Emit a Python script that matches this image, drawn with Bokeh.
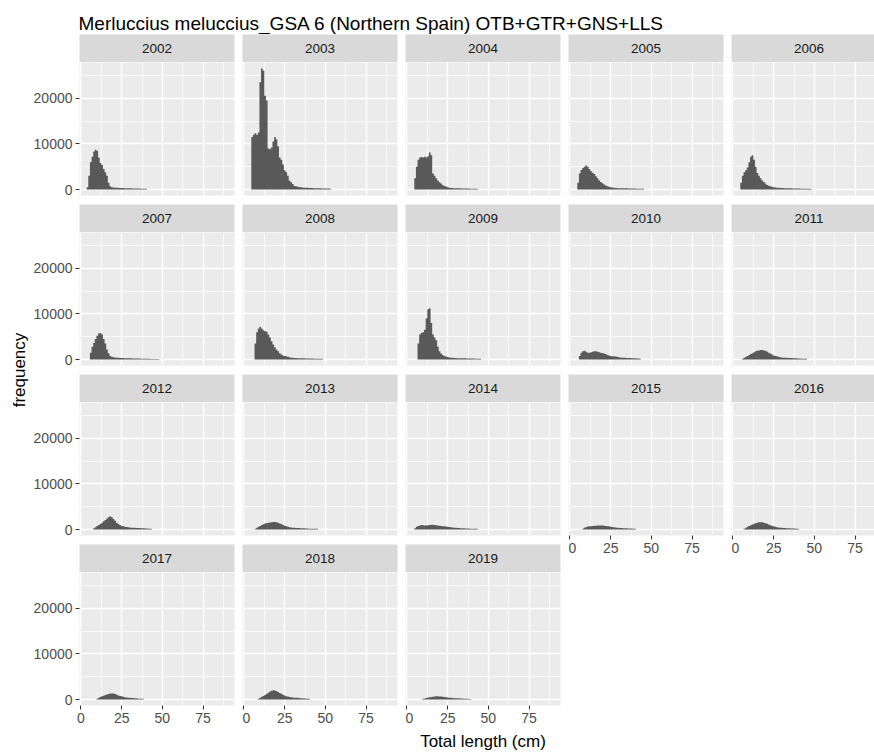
import math
from bokeh.plotting import figure
from bokeh.layouts import row, column
from bokeh.models import Range1d, FixedTicker, NumeralTickFormatter, ColumnDataSource
from bokeh.core.properties import value
from bokeh.embed import file_html
from bokeh.resources import INLINE

# ---------------- data ----------------
title_text = "Merluccius meluccius_GSA 6 (Northern Spain) OTB+GTR+GNS+LLS"
x_title = "Total length (cm)"
y_title = "frequency"

years = [2002, 2003, 2004, 2005, 2006, 2007, 2008, 2009, 2010,
         2011, 2012, 2013, 2014, 2015, 2016, 2017, 2018, 2019]

# length classes (cm), 1-cm bins starting at 3 cm
length_cm = [3, 4, 5, 6, 7, 8, 9, 10, 11, 12, 13, 14, 15, 16, 17, 18, 19, 20,
             21, 22, 23, 24, 25, 26, 27, 28, 29, 30, 31, 32, 33, 34, 35, 36, 37,
             38, 39, 40, 41, 42, 43, 44, 45, 46, 47, 48, 49, 50, 51, 52, 53, 54, 55]

# numbers at length, one value per class starting at 3 cm
freq_2002 = [0, 500, 3000, 6000, 7200, 8300, 8700, 8500, 7000, 5800,
             5400, 4500, 3800, 3000, 1500, 700, 500, 450, 420, 400,
             380, 360, 340, 320, 300, 290, 280, 270, 260, 250,
             240, 230, 220, 210, 200, 190, 180, 160, 0]
freq_2003 = [0, 0, 11500, 12000, 12300, 12000, 12500, 23500, 26500, 26000,
             20500, 19500, 9000, 8800, 9200, 10500, 11500, 11000, 9500, 7000,
             6500, 5500, 4200, 3800, 3000, 1900, 1600, 1200, 800, 700,
             600, 550, 500, 450, 420, 400, 380, 360, 340, 320,
             300, 290, 280, 270, 260, 250, 240, 230, 220, 210, 200, 0]
freq_2004 = [0, 0, 2500, 5000, 6500, 7000, 7100, 7000, 7200, 7000,
             7300, 8100, 7500, 3500, 3000, 2500, 2000, 1600, 1300, 1000,
             800, 650, 500, 400, 350, 320, 300, 290, 280, 270,
             260, 250, 240, 230, 220, 210, 200, 190, 180, 170, 160, 0]
freq_2005 = [0, 0, 1500, 3500, 4300, 4700, 5000, 5250, 5000, 4500,
             4000, 3700, 3400, 2900, 2500, 2000, 1650, 1400, 1100, 900,
             720, 600, 500, 450, 400, 350, 330, 310, 300, 290,
             280, 270, 260, 250, 240, 230, 220, 210, 200, 190,
             180, 170, 160, 0]
freq_2006 = [0, 0, 1500, 3000, 3800, 4200, 4800, 6000, 7200, 7500,
             6500, 5000, 3600, 3000, 2500, 2000, 1650, 1300, 1000, 850,
             720, 600, 500, 450, 400, 380, 360, 340, 320, 300,
             290, 280, 270, 260, 250, 240, 230, 220, 210, 200,
             190, 180, 170, 160, 150, 140, 0]
freq_2007 = [0, 0, 0, 1500, 2800, 3600, 4500, 5200, 5700, 5800,
             5500, 4500, 3500, 2200, 1400, 800, 600, 500, 450, 400,
             380, 360, 340, 320, 300, 290, 280, 270, 260, 250,
             240, 230, 220, 210, 200, 190, 180, 170, 160, 150,
             140, 130, 120, 110, 100, 90, 0]
freq_2008 = [0, 0, 0, 0, 3500, 6000, 6800, 7200, 6800, 6400,
             6200, 6100, 5500, 4800, 4000, 3300, 2700, 2200, 1800, 1400,
             1100, 900, 800, 720, 600, 500, 420, 380, 350, 320,
             300, 290, 280, 270, 260, 250, 240, 230, 220, 210,
             200, 190, 180, 170, 160, 150, 0]
freq_2009 = [0, 0, 0, 0, 3500, 5500, 5800, 6000, 6500, 9000,
             11000, 11200, 8000, 5500, 4800, 4200, 2800, 1800, 1300, 1000,
             800, 650, 550, 450, 400, 370, 350, 330, 310, 300,
             290, 280, 270, 260, 250, 240, 230, 220, 210, 200,
             190, 180, 170, 0]
freq_2010 = [0, 0, 0, 800, 1500, 1800, 1900, 1700, 1500, 1500,
             1600, 1700, 1800, 1800, 1700, 1600, 1500, 1400, 1300, 1200,
             1000, 900, 800, 750, 700, 650, 600, 500, 450, 420,
             400, 380, 360, 340, 320, 300, 280, 260, 240, 220, 200, 0]
freq_2011 = [0, 0, 0, 200, 400, 600, 800, 1000, 1200, 1400,
             1600, 1800, 1900, 2000, 2100, 2100, 2000, 1900, 1700, 1500,
             1300, 1100, 900, 800, 700, 600, 500, 450, 420, 400,
             380, 360, 340, 320, 300, 280, 260, 240, 220, 200,
             180, 160, 150, 0]
freq_2012 = [0, 0, 0, 0, 0, 300, 500, 800, 1000, 1200,
             1500, 1800, 2100, 2400, 2700, 2900, 2700, 2300, 1900, 1500,
             1200, 1000, 800, 700, 600, 550, 500, 450, 420, 400,
             380, 360, 340, 320, 300, 280, 260, 240, 220, 200, 180, 0]
freq_2013 = [0, 0, 0, 0, 200, 400, 600, 800, 1000, 1150,
             1300, 1400, 1500, 1550, 1600, 1650, 1650, 1600, 1500, 1350,
             1200, 1000, 850, 700, 600, 500, 450, 400, 380, 360,
             340, 320, 300, 280, 260, 240, 220, 200, 190, 180,
             170, 160, 150, 0]
freq_2014 = [0, 0, 300, 600, 800, 900, 1000, 950, 900, 900,
             950, 1000, 1050, 1050, 1000, 950, 900, 850, 800, 750,
             700, 650, 600, 550, 500, 450, 400, 370, 350, 330,
             310, 290, 270, 250, 230, 210, 200, 190, 180, 170, 160, 0]
freq_2015 = [0, 0, 0, 0, 0, 200, 400, 550, 650, 700,
             750, 800, 850, 850, 900, 900, 900, 880, 850, 800,
             750, 700, 600, 550, 500, 450, 400, 370, 350, 330,
             310, 290, 270, 250, 230, 210, 190, 170, 0]
freq_2016 = [0, 0, 0, 0, 200, 400, 600, 800, 950, 1100,
             1250, 1400, 1500, 1580, 1620, 1600, 1500, 1400, 1250, 1100,
             950, 800, 700, 600, 500, 450, 400, 370, 350, 330,
             310, 290, 270, 250, 230, 210, 190, 170, 0]
freq_2017 = [0, 0, 0, 0, 0, 0, 0, 200, 400, 550,
             700, 850, 1000, 1100, 1200, 1300, 1350, 1300, 1200, 1050,
             900, 800, 700, 600, 500, 450, 400, 370, 350, 320,
             290, 260, 230, 200, 180, 160, 0]
freq_2018 = [0, 0, 0, 0, 0, 0, 200, 400, 600, 800,
             1000, 1250, 1500, 1750, 1950, 2050, 2000, 1850, 1650, 1450,
             1250, 1050, 900, 750, 650, 550, 500, 450, 420, 400,
             370, 340, 310, 280, 250, 220, 200, 180, 0]
freq_2019 = [0, 0, 0, 0, 0, 0, 0, 150, 250, 350,
             450, 520, 580, 630, 670, 700, 700, 690, 660, 620,
             570, 520, 470, 420, 380, 340, 300, 280, 270, 260,
             240, 220, 200, 180, 160, 140, 120, 0]

freq_by_year = {
    2002: freq_2002, 2003: freq_2003, 2004: freq_2004, 2005: freq_2005,
    2006: freq_2006, 2007: freq_2007, 2008: freq_2008, 2009: freq_2009,
    2010: freq_2010, 2011: freq_2011, 2012: freq_2012, 2013: freq_2013,
    2014: freq_2014, 2015: freq_2015, 2016: freq_2016, 2017: freq_2017,
    2018: freq_2018, 2019: freq_2019,
}

x_major_ticks = [0, 25, 50, 75]
x_minor_ticks = [12.5, 37.5, 62.5, 87.5]
y_major_ticks = [0, 10000, 20000]
y_minor_ticks = [5000, 15000, 25000]

# ---------------- layout / style ----------------
FONT = "Liberation Sans"
NCOL = 5
X_START, X_END = -0.9, 94.3
Y_START, Y_END = -1300, 27800
PANEL_W = 155
PANEL_H = 133
STRIP_H = 28
HGAP = 8
VGAP = 9
LEFT_LABEL_W = 30
LEFT_AXIS_W = 49
HEADER_H = 34
TOTAL_W = 874
BOTTOM_H = 48

PANEL_BG = "#EBEBEB"
STRIP_BG = "#D9D9D9"
BAR_COLOR = "#595959"

# last column is cut by the window edge, like the reference
last_col_w = TOTAL_W - LEFT_LABEL_W - LEFT_AXIS_W - 4 * (PANEL_W + HGAP)
x_ranges = []
for c in range(NCOL):
    if c < NCOL - 1:
        x_ranges.append(Range1d(X_START, X_END))
    else:
        x_ranges.append(Range1d(X_START, X_START + (X_END - X_START) * last_col_w / PANEL_W))
col_widths = [PANEL_W] * (NCOL - 1) + [last_col_w]
x_center = (X_START + X_END) / 2


def style_axis(ax):
    ax.axis_line_color = None
    ax.major_tick_line_color = "#333333"
    ax.major_tick_line_width = 1
    ax.major_tick_out = 4
    ax.major_tick_in = 0
    ax.minor_tick_line_color = None
    ax.major_label_text_color = "#4D4D4D"
    ax.major_label_text_font = FONT
    ax.major_label_text_font_size = "14px"
    ax.major_label_standoff = 3
    ax.axis_label_text_font = FONT
    ax.axis_label_text_font_size = "17px"
    ax.axis_label_text_font_style = "normal"
    ax.axis_label_text_color = "#000000"


def make_strip(c, year):
    s = figure(frame_width=col_widths[c], frame_height=STRIP_H,
               x_range=x_ranges[c], y_range=Range1d(0, 1),
               x_axis_location=None, y_axis_location=None,
               toolbar_location=None, output_backend="svg",
               min_border_left=LEFT_AXIS_W if c == 0 else 0,
               min_border_right=HGAP if c < NCOL - 1 else 0,
               min_border_top=0, min_border_bottom=0)
    s.background_fill_color = STRIP_BG
    s.border_fill_color = "white"
    s.outline_line_color = None
    s.grid.visible = False
    s.text(x=[x_center], y=[0.5], text=[str(year)], text_align="center",
           text_baseline="middle", text_font=value(FONT),
           text_font_size="13.5px", text_color="#1A1A1A")
    return s


def make_panel(c, year, show_x, bottom_border, xlabel=None):
    p = figure(frame_width=col_widths[c], frame_height=PANEL_H,
               x_range=x_ranges[c], y_range=Range1d(Y_START, Y_END),
               x_axis_location="below" if show_x else None,
               y_axis_location="left" if c == 0 else None,
               toolbar_location=None, output_backend="svg",
               min_border_left=LEFT_AXIS_W if c == 0 else 0,
               min_border_right=HGAP if c < NCOL - 1 else 0,
               min_border_top=0, min_border_bottom=bottom_border)
    p.background_fill_color = PANEL_BG
    p.border_fill_color = "white"
    p.outline_line_color = None
    p.xgrid.ticker = FixedTicker(ticks=x_major_ticks, minor_ticks=x_minor_ticks)
    p.ygrid.ticker = FixedTicker(ticks=y_major_ticks, minor_ticks=y_minor_ticks)
    for g in (p.xgrid[0], p.ygrid[0]):
        g.grid_line_color = "white"
        g.grid_line_width = 1.4
        g.minor_grid_line_color = "white"
        g.minor_grid_line_width = 0.7
    if show_x:
        p.xaxis.ticker = FixedTicker(ticks=x_major_ticks, minor_ticks=x_minor_ticks)
        style_axis(p.xaxis[0])
        if xlabel:
            p.xaxis.axis_label = xlabel
            p.xaxis.axis_label_standoff = 6
    if c == 0:
        p.yaxis.ticker = FixedTicker(ticks=y_major_ticks, minor_ticks=y_minor_ticks)
        p.yaxis.formatter = NumeralTickFormatter(format="0")
        style_axis(p.yaxis[0])
    vals = freq_by_year[year]
    src = ColumnDataSource(dict(x=length_cm[:len(vals)], top=vals))
    # 1-cm histogram bars drawn as one stepped area (no seams between bars)
    p.varea_step(x="x", y1=0, y2="top", step_mode="center", source=src,
                 fill_color=BAR_COLOR)
    return p


columns = []
for c in range(NCOL):
    last_row = (len(years) - 1 - c) // NCOL
    items = []
    for r in range(last_row + 1):
        year = years[r * NCOL + c]
        bottom = (r == last_row)
        items.append(make_strip(c, year))
        items.append(make_panel(c, year, show_x=bottom,
                                bottom_border=BOTTOM_H if (bottom and r == 3) else VGAP,
                                xlabel=x_title if (bottom and c == 2) else None))
    columns.append(column(*items, spacing=0))

body_h = 3 * (STRIP_H + PANEL_H + VGAP) + STRIP_H + PANEL_H + BOTTOM_H

# header with the plot title
header = figure(frame_width=TOTAL_W, frame_height=HEADER_H,
                x_range=Range1d(0, TOTAL_W), y_range=Range1d(0, HEADER_H),
                x_axis_location=None, y_axis_location=None,
                toolbar_location=None, output_backend="svg",
                min_border=0)
header.outline_line_color = None
header.grid.visible = False
header.text(x=[LEFT_LABEL_W + LEFT_AXIS_W - 1], y=[11], text=[title_text],
            text_align="left", text_baseline="alphabetic",
            text_font=value(FONT), text_font_size="19px", text_color="#000000")

# y-axis title, centred on the strips+panels block
ylab = figure(frame_width=LEFT_LABEL_W, frame_height=body_h,
              x_range=Range1d(0, LEFT_LABEL_W), y_range=Range1d(0, body_h),
              x_axis_location=None, y_axis_location=None,
              toolbar_location=None, output_backend="svg",
              min_border=0)
ylab.outline_line_color = None
ylab.grid.visible = False
ylab.text(x=[19], y=[BOTTOM_H + (body_h - BOTTOM_H) / 2], text=[y_title], angle=math.pi / 2,
          text_align="center", text_baseline="middle",
          text_font=value(FONT), text_font_size="17px", text_color="#000000")

layout = column(header, row(ylab, *columns, spacing=0), spacing=0)

open("out.html", "w").write(file_html(layout, INLINE))
